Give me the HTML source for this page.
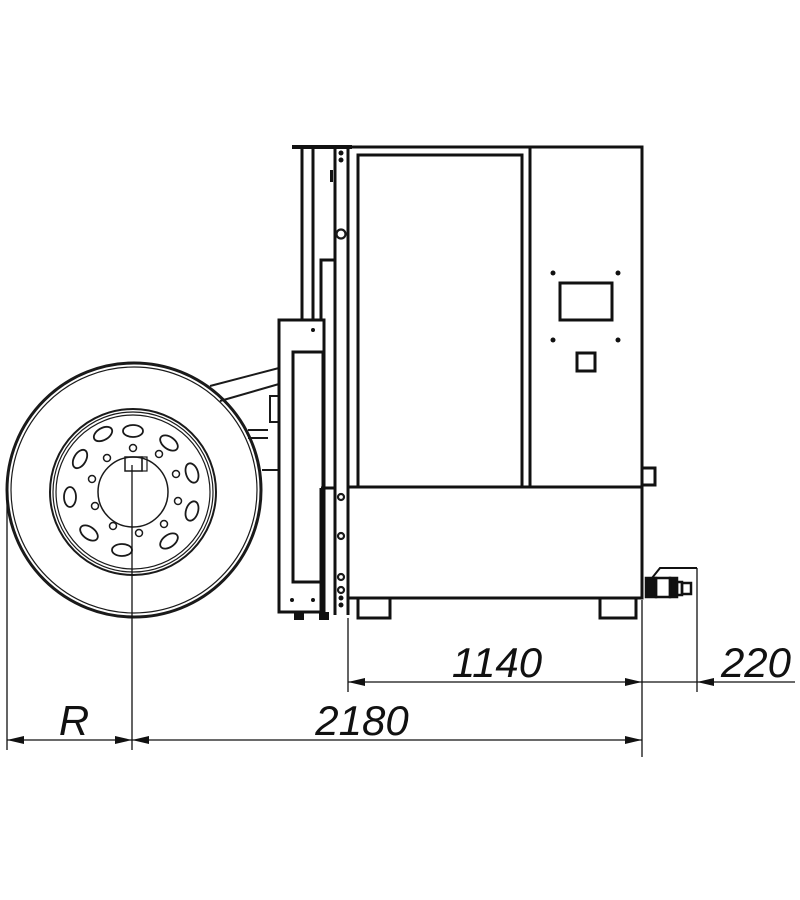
<!DOCTYPE html>
<html><head><style>body{margin:0;background:#fff}svg{display:block}</style></head><body>
<svg width="800" height="900" viewBox="0 0 800 900" xmlns="http://www.w3.org/2000/svg" fill="none" stroke="#1a1a1a">
<!-- tire -->
<circle cx="134" cy="490" r="127" stroke-width="3"/>
<circle cx="134" cy="490" r="123" stroke-width="1.2"/>
<circle cx="133" cy="492" r="83" stroke-width="2"/>
<circle cx="133" cy="492" r="80" stroke-width="1.2"/>
<circle cx="133" cy="492" r="77" stroke-width="1.2"/>
<circle cx="133" cy="492" r="35" stroke-width="1.5"/>
<g stroke-width="1.8">
<ellipse cx="133" cy="431" rx="10" ry="6"/>
<ellipse cx="169" cy="443" rx="10" ry="6" transform="rotate(36 169 443)"/>
<ellipse cx="192" cy="473" rx="10" ry="6" transform="rotate(72 192 473)"/>
<ellipse cx="192" cy="511" rx="10" ry="6" transform="rotate(108 192 511)"/>
<ellipse cx="169" cy="541" rx="10" ry="6" transform="rotate(144 169 541)"/>
<ellipse cx="122" cy="550" rx="10" ry="6" transform="rotate(0 122 550)"/>
<ellipse cx="89" cy="533" rx="10" ry="6" transform="rotate(36 89 533)"/>
<ellipse cx="70" cy="497" rx="10" ry="6" transform="rotate(90 70 497)"/>
<ellipse cx="80" cy="459" rx="10" ry="6" transform="rotate(120 80 459)"/>
<ellipse cx="103" cy="434" rx="10" ry="6" transform="rotate(-30 103 434)"/>
</g>
<g stroke-width="1.5">
<circle cx="133" cy="448" r="3.5"/><circle cx="159" cy="454" r="3.5"/><circle cx="176" cy="474" r="3.5"/>
<circle cx="178" cy="501" r="3.5"/><circle cx="164" cy="524" r="3.5"/><circle cx="139" cy="533" r="3.5"/>
<circle cx="113" cy="526" r="3.5"/><circle cx="95" cy="506" r="3.5"/><circle cx="92" cy="479" r="3.5"/><circle cx="107" cy="458" r="3.5"/>
</g>
<rect x="125" y="457" width="17" height="14" stroke-width="1.5"/>
<rect x="142" y="457" width="5" height="14" stroke-width="1.2"/>
<!-- arm -->
<g stroke-width="2">
<line x1="210" y1="386" x2="279" y2="368"/>
<line x1="220" y1="401" x2="279" y2="384"/>
<rect x="270" y="396" width="9" height="26"/>
<line x1="248" y1="430" x2="268" y2="430"/>
<line x1="248" y1="438" x2="268" y2="438"/>
<line x1="262" y1="470" x2="279" y2="470"/>
</g>
<!-- column -->
<g stroke="#111" stroke-width="3">
<line x1="292" y1="147" x2="352" y2="147" stroke-width="4"/>
<line x1="302" y1="147" x2="302" y2="320"/>
<line x1="313" y1="147" x2="313" y2="320"/>
<polyline points="321,320 321,260 335,260"/>
<line x1="335" y1="147" x2="335" y2="615"/>
<line x1="348" y1="147" x2="348" y2="615"/>
<line x1="321" y1="488" x2="335" y2="488"/>
<line x1="321" y1="488" x2="321" y2="612"/>
<rect x="279" y="320" width="45" height="292"/>
<rect x="293" y="352" width="30" height="230"/>
</g>
<g fill="#111" stroke="none">
<circle cx="313" cy="330" r="2"/><circle cx="292" cy="600" r="2"/><circle cx="313" cy="600" r="2"/>
<rect x="294" y="612" width="10" height="8"/><rect x="319" y="612" width="10" height="8"/>
<circle cx="341" cy="153" r="2.5"/><circle cx="341" cy="160" r="2.5"/>
<circle cx="341" cy="598" r="2.5"/><circle cx="341" cy="605" r="2.5"/>
<rect x="330" y="170" width="3" height="12"/>
</g>
<g stroke-width="2.2"><circle cx="341" cy="234" r="4.5"/><circle cx="341" cy="497" r="3"/><circle cx="341" cy="536" r="3"/><circle cx="341" cy="577" r="3"/><circle cx="341" cy="590" r="3"/></g>
<!-- cabinet -->
<g stroke="#111" stroke-width="3">
<rect x="348" y="147" width="294" height="340"/>
<rect x="358" y="155" width="164" height="332"/>
<line x1="530" y1="147" x2="530" y2="487"/>
<rect x="348" y="487" width="294" height="111"/>
<line x1="348" y1="598" x2="642" y2="598"/>
<rect x="358" y="598" width="32" height="20"/>
<rect x="600" y="598" width="36" height="20"/>
<path d="M642 468 H655 V485 H642"/>
<rect x="560" y="283" width="52" height="37"/>
<rect x="577" y="353" width="18" height="18"/>
</g>
<g fill="#111" stroke="none"><circle cx="553" cy="273" r="2.5"/><circle cx="618" cy="273" r="2.5"/><circle cx="553" cy="340" r="2.5"/><circle cx="618" cy="340" r="2.5"/></g>
<!-- valve -->
<g stroke="#111" stroke-width="2.5">
<rect x="646" y="578" width="10" height="19" fill="#111"/>
<rect x="656" y="578" width="14" height="19"/>
<rect x="670" y="578" width="7" height="19" fill="#111"/>
<rect x="677" y="582" width="5" height="13"/>
<rect x="682" y="583" width="9" height="11"/>
<path d="M652 578 L660 568 H697" stroke-width="2"/>
</g>
<!-- dimensions -->
<g stroke="#111" stroke-width="1.3">
<line x1="7" y1="490" x2="7" y2="750"/>
<line x1="132" y1="465" x2="132" y2="750"/>
<line x1="348" y1="618" x2="348" y2="692"/>
<line x1="642" y1="600" x2="642" y2="757"/>
<line x1="697" y1="568" x2="697" y2="692"/>
<line x1="348" y1="682" x2="795" y2="682"/>
<line x1="7" y1="740" x2="642" y2="740"/>
</g>
<g fill="#111" stroke="none">
<path d="M348 682 l17 -4 v8z"/><path d="M642 682 l-17 -4 v8z"/><path d="M697 682 l17 -4 v8z"/>
<path d="M7 740 l17 -4 v8z"/><path d="M132 740 l-17 -4 v8z"/><path d="M132 740 l17 -4 v8z"/><path d="M642 740 l-17 -4 v8z"/>
</g>
<g fill="#111" stroke="none" font-family="Liberation Sans, sans-serif" font-style="italic" font-size="42">
<text x="497" y="677" text-anchor="middle">1140</text>
<text x="756" y="677" text-anchor="middle">220</text>
<text x="74" y="735" text-anchor="middle">R</text>
<text x="362" y="735" text-anchor="middle">2180</text>
</g>
</svg>
</body></html>
